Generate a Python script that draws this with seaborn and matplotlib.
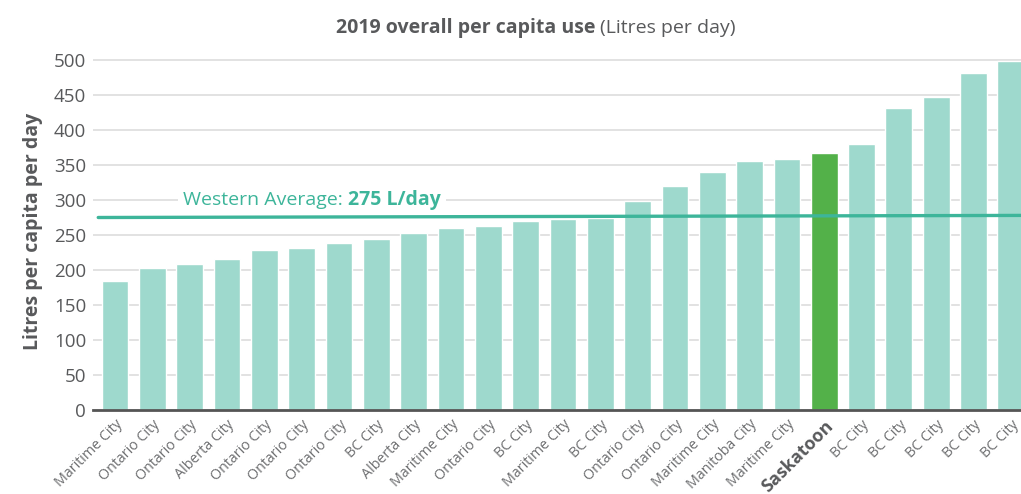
import pandas as pd
import numpy as np
import matplotlib.pyplot as plt
import seaborn as sns
from matplotlib.offsetbox import TextArea, HPacker, AnnotationBbox

# data
cities = ['Maritime City', 'Ontario City', 'Ontario City', 'Alberta City', 'Ontario City',
          'Ontario City', 'Ontario City', 'BC City', 'Alberta City', 'Maritime City',
          'Ontario City', 'BC City', 'Maritime City', 'BC City', 'Ontario City',
          'Ontario City', 'Maritime City', 'Manitoba City', 'Maritime City', 'Saskatoon',
          'BC City', 'BC City', 'BC City', 'BC City', 'BC City']
per_capita = [184, 203, 208, 216, 228, 231, 238, 244, 253, 260, 263, 270, 273, 275,
              298, 320, 340, 356, 359, 367, 380, 431, 447, 481, 499]
avg_x = [-0.45, 24.4]
avg_y = [275, 278]
yticks = [0, 50, 100, 150, 200, 250, 300, 350, 400, 450, 500]

LIGHT = '#9ed9cd'
GREEN = '#53b149'
TEAL = '#3db59a'
GREY = '#58595b'

sns.set_style('white')
plt.rcParams['font.family'] = ['Open Sans', 'DejaVu Sans']

df = pd.DataFrame({'idx': range(len(cities)), 'city': cities, 'use': per_capita})
colors = [GREEN if c == 'Saskatoon' else LIGHT for c in cities]

fig = plt.figure(figsize=(10.21, 4.94), dpi=100)
ax = fig.add_axes([93 / 1021, 1 - 410 / 494, 1 - 93 / 1021, (410 - 53) / 494])

sns.barplot(data=df, x='idx', y='use', hue='idx', palette=colors, legend=False,
            width=0.72, saturation=1, ax=ax, zorder=2)

ax.plot(avg_x, avg_y, color=TEAL, lw=2.4, zorder=3, solid_capstyle='round')

ax.set_xlim(-0.59, 24.27)
ax.set_ylim(0, 510)
ax.set_yticks(yticks)
ax.yaxis.grid(True, color='#e2e2e2', lw=1.4, zorder=0)
ax.set_axisbelow(True)
for s in ['top', 'right', 'left']:
    ax.spines[s].set_visible(False)
ax.spines['bottom'].set_color('#555555')
ax.spines['bottom'].set_linewidth(2)
ax.spines['bottom'].set_zorder(4)

ax.tick_params(axis='both', length=0)
ax.tick_params(axis='y', labelsize=13.5, labelcolor=GREY, pad=5)
ax.set_xticks(range(len(cities)))
ax.set_xticklabels(cities, rotation=45, ha='right', rotation_mode='anchor',
                   fontsize=10.3, color='#6d6e70')
ax.tick_params(axis='x', pad=5)
for lab in ax.get_xticklabels():
    if lab.get_text() == 'Saskatoon':
        lab.set_fontweight('bold')
        lab.set_fontsize(13)
        lab.set_color(GREY)

ax.set_xlabel('')
ax.set_ylabel('Litres per capita per day', fontsize=14, fontweight='bold',
              color=GREY, labelpad=8)

# average label, one white box over the gridline
parts = HPacker(children=[
    TextArea('Western Average:', textprops=dict(fontsize=14, color=TEAL)),
    TextArea('275 L/day', textprops=dict(fontsize=14, color=TEAL, fontweight='bold')),
], sep=4, align='baseline', pad=0)
lbl = AnnotationBbox(parts, (1.82, 300), xycoords='data', box_alignment=(0, 0.5),
                     frameon=True, pad=0.35,
                     bboxprops=dict(facecolor='white', edgecolor='none'))
lbl.set_zorder(5)
ax.add_artist(lbl)

# title in two weights
fig.text(595 / 1021, 1 - 28 / 494, '2019 overall per capita use', ha='right',
         va='center', fontsize=14, fontweight='bold', color=GREY)
fig.text(600 / 1021, 1 - 28 / 494, '(Litres per day)', ha='left',
         va='center', fontsize=14, color=GREY)

fig.savefig('out.png', dpi=100)
